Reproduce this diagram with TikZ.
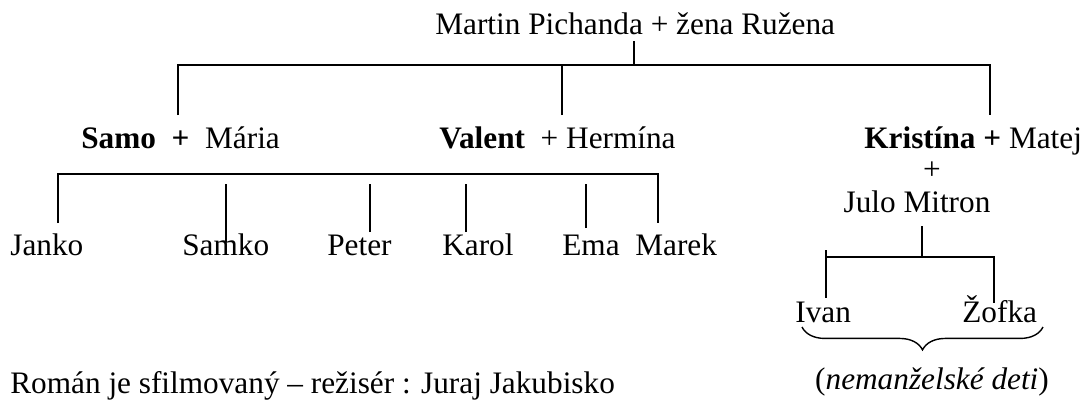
\documentclass[tikz,border=0pt]{standalone}
\usepackage{fontspec}
\setmainfont{Liberation Serif}
\usetikzlibrary{decorations.pathreplacing}

\begin{document}
\begin{tikzpicture}[x=0.02cm, y=-0.02cm,
  who/.style={anchor=base west, inner sep=0pt, font=\fontsize{17.8}{21}\selectfont},
  link/.style={line width=1pt}]
\useasboundingbox (0,0) rectangle (1091,400);

% parents and their children
\node[who] (parents) at (435,34) {Martin Pichanda + žena Ružena};
\node[who] (samo) at (81,148) {\textbf{Samo}\ \ \textbf{+}\ \ Mária};
\node[who] (valent) at (439,148) {\textbf{Valent}\ \ + Hermína};
\node[who] (kristina) at (864,148) {\textbf{Kristína} \textbf{+} Matej};

% Samo's children
\node[who] (janko) at (10,255) {Janko};
\node[who] (samko) at (182,255) {Samko};
\node[who] (peter) at (327,255) {Peter};
\node[who] (karol) at (442,255) {Karol};
\node[who] (ema) at (562,255) {Ema};
\node[who] (marek) at (635,255) {Marek};

% Kristina's side
\node[who, anchor=center] (plus) at (932,171) {+};
\node[who, anchor=base] (julo) at (917,212) {Julo Mitron};
\node[who] (ivan) at (795,322) {Ivan};
\node[who] (zofka) at (962,322) {Žofka};
\node[who, anchor=base] (deti) at (932,389) {(\textit{nemanželské deti})};

\node[who] (film) at (10,393) {Román je sfilmovaný – režisér : Juraj Jakubisko};

% top bracket
\coordinate (rootup) at (634,41);
\coordinate (rootbar) at (634,65);
\coordinate (samoleg) at (178,115);
\coordinate (valentleg) at (562,115);
\coordinate (kristinaleg) at (990,115);
\draw[link] (rootup) -- (rootbar);
\draw[link] (samoleg) |- (kristinaleg |- rootbar) -- (kristinaleg);
\draw[link] (valentleg) -- (valentleg |- rootbar);

% children bracket
\coordinate (kidbar) at (0,174);
\coordinate (kidgap) at (0,184);
\coordinate (jankoleg) at (58,223);
\coordinate (samkoleg) at (226,242);
\coordinate (peterleg) at (370,232);
\coordinate (karolleg) at (466,232);
\coordinate (emaleg) at (586,228);
\coordinate (marekleg) at (658,223);
\draw[link] (jankoleg) |- (marekleg |- kidbar) -- (marekleg);
\foreach \leg in {samkoleg,peterleg,karolleg,emaleg}
  \draw[link] (\leg) -- (\leg |- kidgap);

% Ivan and Zofka
\coordinate (juloleg) at (922,226);
\coordinate (smallbar) at (0,257);
\coordinate (ivantop) at (826,250);
\coordinate (ivanleg) at (826,298);
\coordinate (zofkaleg) at (994,303);
\draw[link] (juloleg) -- (juloleg |- smallbar);
\draw[link] (ivantop) -- (ivanleg);
\draw[link] (ivantop |- smallbar) -| (zofkaleg);

\coordinate (bracel) at (802,327);
\coordinate (bracer) at (1043,327);
\draw[line width=0.8pt, decorate, decoration={brace, mirror, amplitude=13pt}] (bracel) -- (bracer);
\end{tikzpicture}
\end{document}
